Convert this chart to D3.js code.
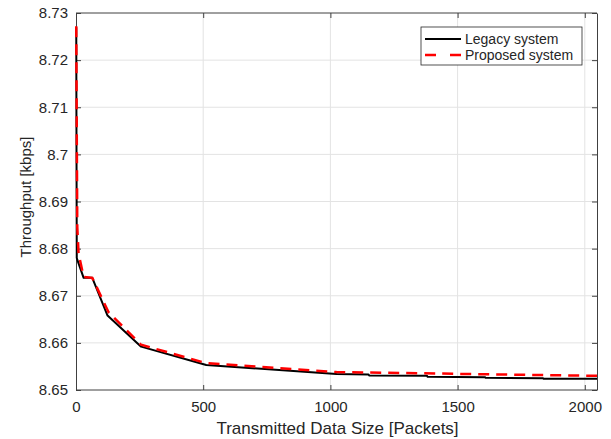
<!DOCTYPE html>
<meta charset="UTF-8">
<script src="https://d3js.org/d3.v7.min.js"></script>
<style>
  body { margin: 0; background: #fff; }
  text { font-family: "Liberation Sans", Arial, sans-serif; fill: #262626; }
</style>
<svg id="my_dataviz" width="611" height="439"></svg>
<script>

// Data
var packetsLegacy = [1, 2, 3, 8, 30, 64, 124, 256, 512, 1024, 1150, 1152, 1380, 1382, 1608, 1610, 1836, 1838, 2048];
var legacy = [8.7270, 8.7000, 8.6780, 8.6772, 8.6738, 8.6738, 8.6658, 8.6592, 8.6553, 8.6534, 8.6533, 8.6531, 8.6530, 8.6528, 8.6527, 8.6526, 8.6525, 8.6524, 8.6524];
var packetsProposed = [1, 3, 5, 10, 30, 64, 128, 256, 512, 1024, 2048];
var proposed = [8.7272, 8.7050, 8.6846, 8.6790, 8.6740, 8.6738, 8.6665, 8.6596, 8.6557, 8.6538, 8.6530];
var xTicks = [0, 500, 1000, 1500, 2000];
var yTicks = [8.65, 8.66, 8.67, 8.68, 8.69, 8.70, 8.71, 8.72, 8.73];
var seriesNames = ["Legacy system", "Proposed system"];

var svg = d3.select("svg"),
  mLeft = 76, mRight = 597, mTop = 13, mBottom = 390;

var x = d3.scaleLinear().domain([0, 2048]).range([mLeft, mRight]);
var y = d3.scaleLinear().domain([8.65, 8.73]).range([mBottom, mTop]);

// grid
svg.append("g")
  .selectAll("line")
  .data(xTicks.slice(1))
  .enter().append("line")
    .attr("x1", d => x(d)).attr("x2", d => x(d))
    .attr("y1", mTop).attr("y2", mBottom)
    .attr("stroke", "#e3e3e3").attr("stroke-width", 1);
svg.append("g")
  .selectAll("line")
  .data(yTicks.slice(1, -1))
  .enter().append("line")
    .attr("x1", mLeft).attr("x2", mRight)
    .attr("y1", d => y(d)).attr("y2", d => y(d))
    .attr("stroke", "#e3e3e3").attr("stroke-width", 1);

// axes (MATLAB box, ticks inside)
var xAxis = svg.append("g")
  .attr("transform", "translate(0," + mBottom + ")")
  .call(d3.axisBottom(x).tickValues(xTicks).tickSizeInner(-5).tickSizeOuter(0).tickPadding(11)
    .tickFormat(d3.format("d")));
var xAxisTop = svg.append("g")
  .attr("transform", "translate(0," + mTop + ")")
  .call(d3.axisTop(x).tickValues(xTicks).tickSizeInner(-5).tickSizeOuter(0).tickFormat(""));
var yAxis = svg.append("g")
  .attr("transform", "translate(" + mLeft + ",0)")
  .call(d3.axisLeft(y).tickValues(yTicks).tickSizeInner(-5).tickSizeOuter(0).tickPadding(8)
    .tickFormat(d => d3.format("~g")(+d.toFixed(2))));
var yAxisRight = svg.append("g")
  .attr("transform", "translate(" + mRight + ",0)")
  .call(d3.axisRight(y).tickValues(yTicks).tickSizeInner(-5).tickSizeOuter(0).tickFormat(""));

[xAxis, xAxisTop, yAxis, yAxisRight].forEach(function(a) {
  a.select(".domain").attr("stroke", "#404040").attr("stroke-width", 1);
  a.selectAll(".tick line").attr("stroke", "#404040");
  a.selectAll("text").style("font-size", "15px").attr("fill", "#262626")
    .style("font-family", "'Liberation Sans', Arial, sans-serif");
});
xAxis.select(".domain").attr("d", "M" + mLeft + ",0H" + mRight);
xAxisTop.select(".domain").attr("d", "M" + mLeft + ",0H" + mRight);

// lines
var lineGen = d3.line().x(d => x(d[0])).y(d => y(d[1]));

svg.append("path")
  .datum(packetsLegacy.map((p, i) => [p, legacy[i]]))
  .attr("d", lineGen)
  .attr("fill", "none")
  .attr("stroke", "#000")
  .attr("stroke-width", 2)
  .attr("stroke-linejoin", "round");

svg.append("path")
  .datum(packetsProposed.map((p, i) => [p, proposed[i]]))
  .attr("d", lineGen)
  .attr("fill", "none")
  .attr("stroke", "#ff0000")
  .attr("stroke-width", 2.5)
  .attr("stroke-dasharray", "11,7");

// labels
svg.append("text")
  .attr("x", (mLeft + mRight) / 2 + 1)
  .attr("y", 434)
  .attr("text-anchor", "middle")
  .style("font-size", "17px")
  .text("Transmitted Data Size [Packets]");

svg.append("text")
  .attr("transform", "translate(31," + 197 + ") rotate(-90)")
  .attr("text-anchor", "middle")
  .style("font-size", "15px")
  .text("Throughput [kbps]");

// legend
var lg = svg.append("g").attr("transform", "translate(421,27)");
lg.append("rect")
  .attr("width", 161).attr("height", 38)
  .attr("fill", "#fff").attr("stroke", "#262626").attr("stroke-width", 0.8);
var items = lg.selectAll(".item")
  .data(seriesNames)
  .enter().append("g")
  .attr("transform", (d, i) => "translate(0," + (12 + i * 16) + ")");
items.append("line")
  .attr("x1", 4).attr("x2", 40)
  .attr("stroke", (d, i) => i === 0 ? "#000" : "#ff0000")
  .attr("stroke-width", (d, i) => i === 0 ? 2 : 2.5)
  .attr("stroke-dasharray", (d, i) => i === 0 ? null : "11,14");
items.append("text")
  .attr("x", 44).attr("y", 5)
  .style("font-size", "14px")
  .attr("fill", "#000")
  .text(d => d);

</script>
